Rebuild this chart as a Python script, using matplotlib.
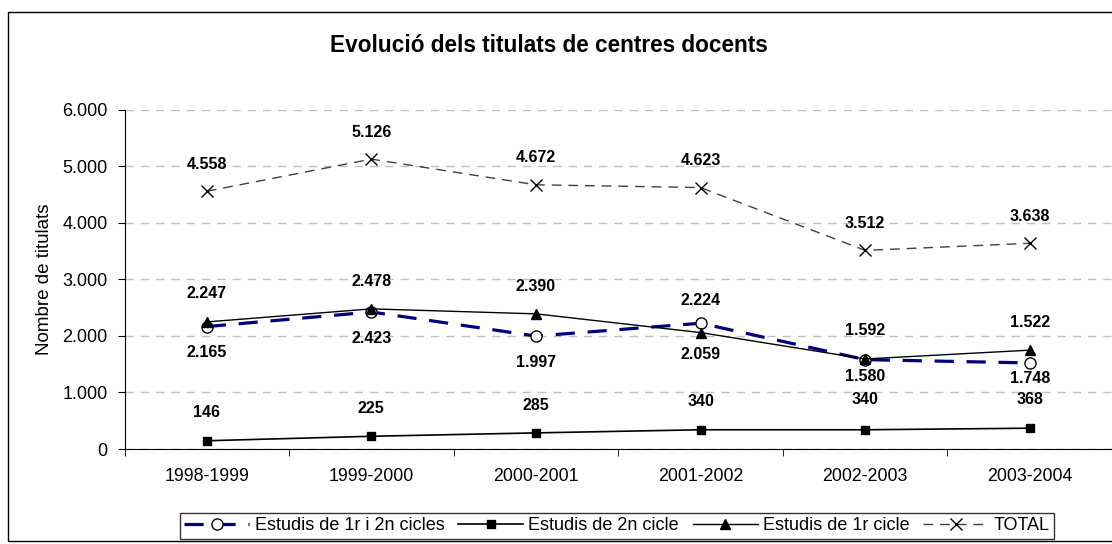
import matplotlib.pyplot as plt
from matplotlib.patches import Rectangle

plt.rcParams['font.family'] = ['Liberation Sans', 'DejaVu Sans']

# Data
cursos = ["1998-1999", "1999-2000", "2000-2001", "2001-2002", "2002-2003", "2003-2004"]
cicles_1r_2n = [2165, 2423, 1997, 2224, 1580, 1522]
cicle_2n = [146, 225, 285, 340, 340, 368]
cicle_1r = [2247, 2478, 2390, 2059, 1592, 1748]
total = [4558, 5126, 4672, 4623, 3512, 3638]

# label offsets in pixels (positive = above the marker)
off_1r_2n = [-26, -27, -26, 23, -17, 40]
off_2n = [28, 28, 27, 28, 30, 29]
off_1r = [28, 27, 27, -22, 28, -28]
off_total = [27, 27, 27, 27, 27, 27]

fig = plt.figure(figsize=(11.12, 5.44), dpi=100)
fig.patches.append(Rectangle((8 / 1112, 3 / 544), 1.2, 529 / 544, transform=fig.transFigure,
                             fill=False, edgecolor='black', linewidth=1))

ax = fig.add_axes([124.5 / 1112, 95 / 544, 1 - 124.5 / 1112, 339.3 / 544])
x = list(range(len(cursos)))

ax.plot(x, cicles_1r_2n, color='#000080', linewidth=2.3, dashes=(6, 4),
        marker='o', markersize=8, markerfacecolor='white', markeredgecolor='black',
        markeredgewidth=1, label='Estudis de 1r i 2n cicles', zorder=3)
ax.plot(x, cicle_2n, color='black', linewidth=1.2, marker='s', markersize=5.5,
        label='Estudis de 2n cicle', zorder=3)
ax.plot(x, cicle_1r, color='black', linewidth=1, marker='^', markersize=6.5,
        label='Estudis de 1r cicle', zorder=4)
ax.plot(x, total, color='#404040', linewidth=1, dashes=(7, 5), marker='x', markersize=8,
        markeredgecolor='black', markeredgewidth=1, label='TOTAL', zorder=3)

def labels(vals, offs):
    for i, (v, o) in enumerate(zip(vals, offs)):
        txt = f"{v:,}".replace(",", ".")
        ax.annotate(txt, (i, v), xytext=(0, o * 0.72), textcoords='offset points',
                    ha='center', va='center', fontsize=11.5, fontweight='bold')

labels(cicles_1r_2n, off_1r_2n)
labels(cicle_2n, off_2n)
labels(cicle_1r, off_1r)
labels(total, off_total)

ax.set_xlim(-0.5, 5.5)
ax.set_ylim(0, 6000)
ax.set_yticks(range(0, 6001, 1000))
ax.set_yticklabels([f"{v:,}".replace(",", ".") for v in range(0, 6001, 1000)], fontsize=13)
ax.set_xticks(x)
ax.set_xticklabels(cursos, fontsize=12.8)
ax.tick_params(axis='x', length=0, pad=14)
ax.set_xticks([i + 0.5 for i in range(-1, 6)], minor=True)
ax.tick_params(axis='x', which='minor', length=5, direction='out')
ax.tick_params(axis='y', length=5, direction='out', pad=7)

ax.grid(axis='y', color='#c0c0c0', linestyle=(0, (6, 5)), linewidth=1)
ax.set_axisbelow(True)
for s in ['top', 'right']:
    ax.spines[s].set_visible(False)
ax.spines['left'].set_color('black')
ax.spines['bottom'].set_color('black')

ax.set_ylabel("Nombre de titulats", fontsize=13.5)
ax.yaxis.set_label_coords(-0.072, 0.5)

fig.text(0.494, 1 - 46 / 544, "Evolució dels titulats de centres docents",
         ha='center', va='center', fontsize=16.3, fontweight='bold')

leg = fig.legend(loc='center', bbox_to_anchor=(617 / 1112, 1 - 526 / 544), ncol=4,
                 fontsize=13, frameon=True, fancybox=False, edgecolor='black',
                 handlelength=3.6, columnspacing=0.75, handletextpad=0.3,
                 borderpad=0.25)
leg.get_frame().set_linewidth(1)

fig.savefig("out.png", dpi=100)
